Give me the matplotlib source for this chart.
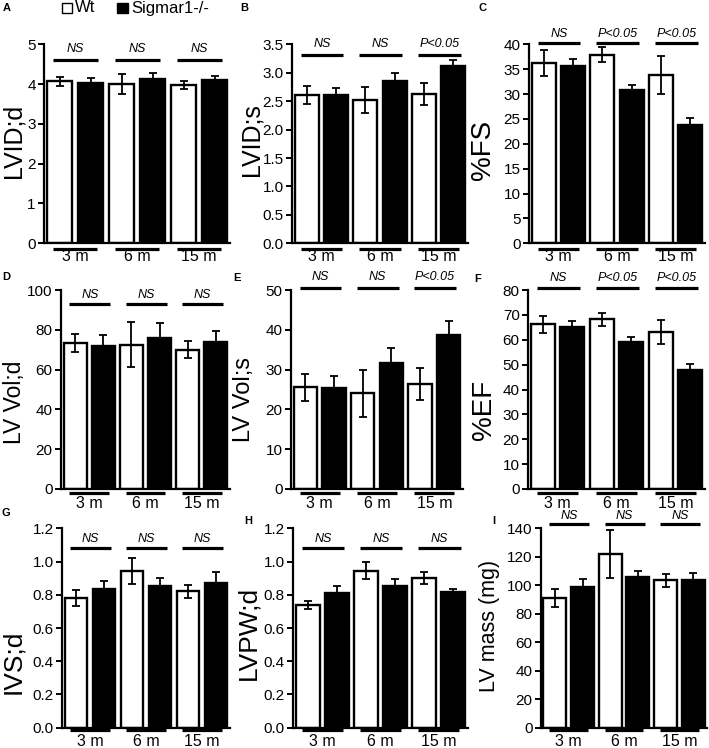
import matplotlib
matplotlib.use("Agg")
import matplotlib.pyplot as plt
from matplotlib.patches import Rectangle
from matplotlib.transforms import blended_transform_factory
import numpy as np

plt.rcParams['font.family'] = ['Liberation Sans', 'DejaVu Sans']

# ---------------- data ----------------
groups = ['3 m', '6 m', '15 m']
series = ['Wt', 'Sigmar1-/-']
panel_letters = ['A', 'B', 'C', 'D', 'E', 'F', 'G', 'H', 'I']
ylabels = ['LVID;d', 'LVID;s', '%FS', 'LV Vol;d', 'LV Vol;s', '%EF',
           'IVS;d', 'LVPW;d', 'LV mass (mg)']

wt_mean = [[4.07, 4.01, 3.98],
           [2.61, 2.52, 2.63],
           [36.2, 37.9, 33.8],
           [73.5, 72.5, 70.0],
           [25.6, 24.0, 26.3],
           [66.2, 68.3, 63.0],
           [0.78, 0.945, 0.82],
           [0.74, 0.945, 0.90],
           [91.0, 122.0, 103.5]]
wt_err = [[0.11, 0.25, 0.10],
          [0.16, 0.23, 0.19],
          [2.6, 1.5, 3.8],
          [4.5, 11.3, 4.2],
          [3.4, 5.8, 4.0],
          [3.4, 2.6, 4.8],
          [0.05, 0.078, 0.04],
          [0.024, 0.05, 0.036],
          [6.3, 17.0, 4.6]]
ko_mean = [[4.04, 4.12, 4.10],
           [2.61, 2.85, 3.12],
           [35.6, 30.8, 23.7],
           [72.0, 76.0, 74.0],
           [25.4, 31.6, 38.8],
           [65.2, 59.2, 47.7],
           [0.835, 0.85, 0.87],
           [0.81, 0.855, 0.815],
           [98.5, 105.8, 103.5]]
ko_err = [[0.12, 0.17, 0.10],
          [0.13, 0.15, 0.10],
          [1.5, 1.1, 1.4],
          [5.2, 7.5, 5.2],
          [3.0, 3.9, 3.3],
          [2.2, 2.0, 2.6],
          [0.045, 0.052, 0.065],
          [0.042, 0.04, 0.018],
          [6.0, 4.5, 5.3]]
sig = [['NS', 'NS', 'NS'],
       ['NS', 'NS', 'P<0.05'],
       ['NS', 'P<0.05', 'P<0.05'],
       ['NS', 'NS', 'NS'],
       ['NS', 'NS', 'P<0.05'],
       ['NS', 'P<0.05', 'P<0.05'],
       ['NS', 'NS', 'NS'],
       ['NS', 'NS', 'NS'],
       ['NS', 'NS', 'NS']]
ymax = [5, 3.5, 40, 100, 50, 80, 1.2, 1.2, 140]
ystep = [1, 0.5, 5, 20, 10, 10, 0.2, 0.2, 20]
ydec = [0, 1, 0, 0, 0, 0, 1, 1, 0]

# ---------------- layout (pixels) ----------------
W, H = 709, 748
fig = plt.figure(figsize=(W / 100, H / 100), dpi=100)

# left, right, top, bottom of each axes
boxes = [(44, 230, 44.3, 243.3), (292, 468, 44.3, 243.3), (529, 705, 44.3, 243.3),
         (61, 230, 290, 489), (291, 463, 290, 489), (528, 705, 290, 489),
         (62, 230, 528.3, 727.7), (293, 468, 528.3, 727.7), (541, 707, 528.3, 727.7)]
sig_line_y = [4.6, 3.32, 40.3, 92.8, 50.6, 81, 1.08, 1.08, 143]
sig_text_y = [4.87, 3.50, 42.0, 97.5, 53.3, 84.8, 1.135, 1.135, 148.5]
ylab_pos = [(13, 141), (251, 140), (483, 150), (14, 402), (244, 400), (484, 410),
            (13, 662), (248, 633), (489, 626)]
ylab_size = [18, 18, 20, 16.5, 17, 20, 19, 19, 15.5]
letter_pos = [(7, 8), (244, 8), (482, 8), (6, 277), (237, 278), (478, 279),
              (6, 513), (248, 521), (494, 521)]
row_line_y = [249, 249, 249, 493, 493, 493, 730, 730, 730]
row_text_y = [257, 257, 257, 504, 504, 504, 741, 741, 741]


def fx(px):
    return px / W


def fy(py):
    return 1 - py / H


bw = 0.82
for i in range(9):
    l, r, t, b = boxes[i]
    ax = fig.add_axes([fx(l), fy(b), (r - l) / W, (b - t) / H])
    xw = np.arange(3) * 2
    xk = xw + 1
    ax.bar(xw, wt_mean[i], width=bw, color='white', edgecolor='black',
           linewidth=1.7, zorder=2)
    ax.bar(xk, ko_mean[i], width=bw, color='black', edgecolor='black',
           linewidth=1.7, zorder=2)
    ax.errorbar(xw, wt_mean[i], yerr=wt_err[i], fmt='none', ecolor='black',
                elinewidth=1.3, capsize=3, capthick=1.3, zorder=3)
    ax.errorbar(xk, ko_mean[i], yerr=ko_err[i], fmt='none', ecolor='black',
                elinewidth=1.3, capsize=3, capthick=1.3, zorder=3)
    ax.set_xlim(-0.5, 5.5)
    ax.set_ylim(0, ymax[i])
    ticks = np.arange(0, ymax[i] + ystep[i] / 2, ystep[i])
    ax.set_yticks(ticks)
    ax.set_yticklabels([f"{v:.{ydec[i]}f}" for v in ticks], fontsize=11)
    ax.set_xticks([])
    for s in ['top', 'right']:
        ax.spines[s].set_visible(False)
    for s in ['left', 'bottom']:
        ax.spines[s].set_linewidth(1.6)
    ax.tick_params(axis='y', direction='out', length=4, width=1.4, pad=2)

    # significance lines and text
    for g in range(3):
        x0, x1 = 2 * g - 0.2, 2 * g + 1.25
        ax.plot([x0, x1], [sig_line_y[i]] * 2, color='black', lw=2.3,
                clip_on=False, solid_capstyle='butt')
        ax.text((x0 + x1) / 2, sig_text_y[i], sig[i][g], ha='center',
                va='center', fontsize=9, style='italic', clip_on=False)

    # group lines and labels below axis
    tr = blended_transform_factory(ax.transData, fig.transFigure)
    for g in range(3):
        x0, x1 = 2 * g - 0.2, 2 * g + 1.2
        ax.plot([x0, x1], [fy(row_line_y[i])] * 2, color='black', lw=2.3,
                transform=tr, clip_on=False, solid_capstyle='butt')
        ax.text((x0 + x1) / 2, fy(row_text_y[i]), groups[g], ha='center',
                va='center', fontsize=11.5, transform=tr)

    fig.text(fx(ylab_pos[i][0]), fy(ylab_pos[i][1]), ylabels[i], rotation=90,
             ha='center', va='center', fontsize=ylab_size[i])
    fig.text(fx(letter_pos[i][0]), fy(letter_pos[i][1]), panel_letters[i],
             ha='center', va='center', fontsize=8, fontweight='bold')

# legend
fig.patches.append(Rectangle((fx(61.5), fy(13)), 10.5 / W, 10 / H,
                             facecolor='white', edgecolor='black', lw=1.0,
                             transform=fig.transFigure))
fig.text(fx(75), fy(8), series[0], ha='left', va='center', fontsize=12)
fig.patches.append(Rectangle((fx(117), fy(13)), 11 / W, 10 / H,
                             facecolor='black', edgecolor='black', lw=1.0,
                             transform=fig.transFigure))
fig.text(fx(131), fy(8), series[1], ha='left', va='center', fontsize=12)

fig.savefig('out.png', dpi=100)
